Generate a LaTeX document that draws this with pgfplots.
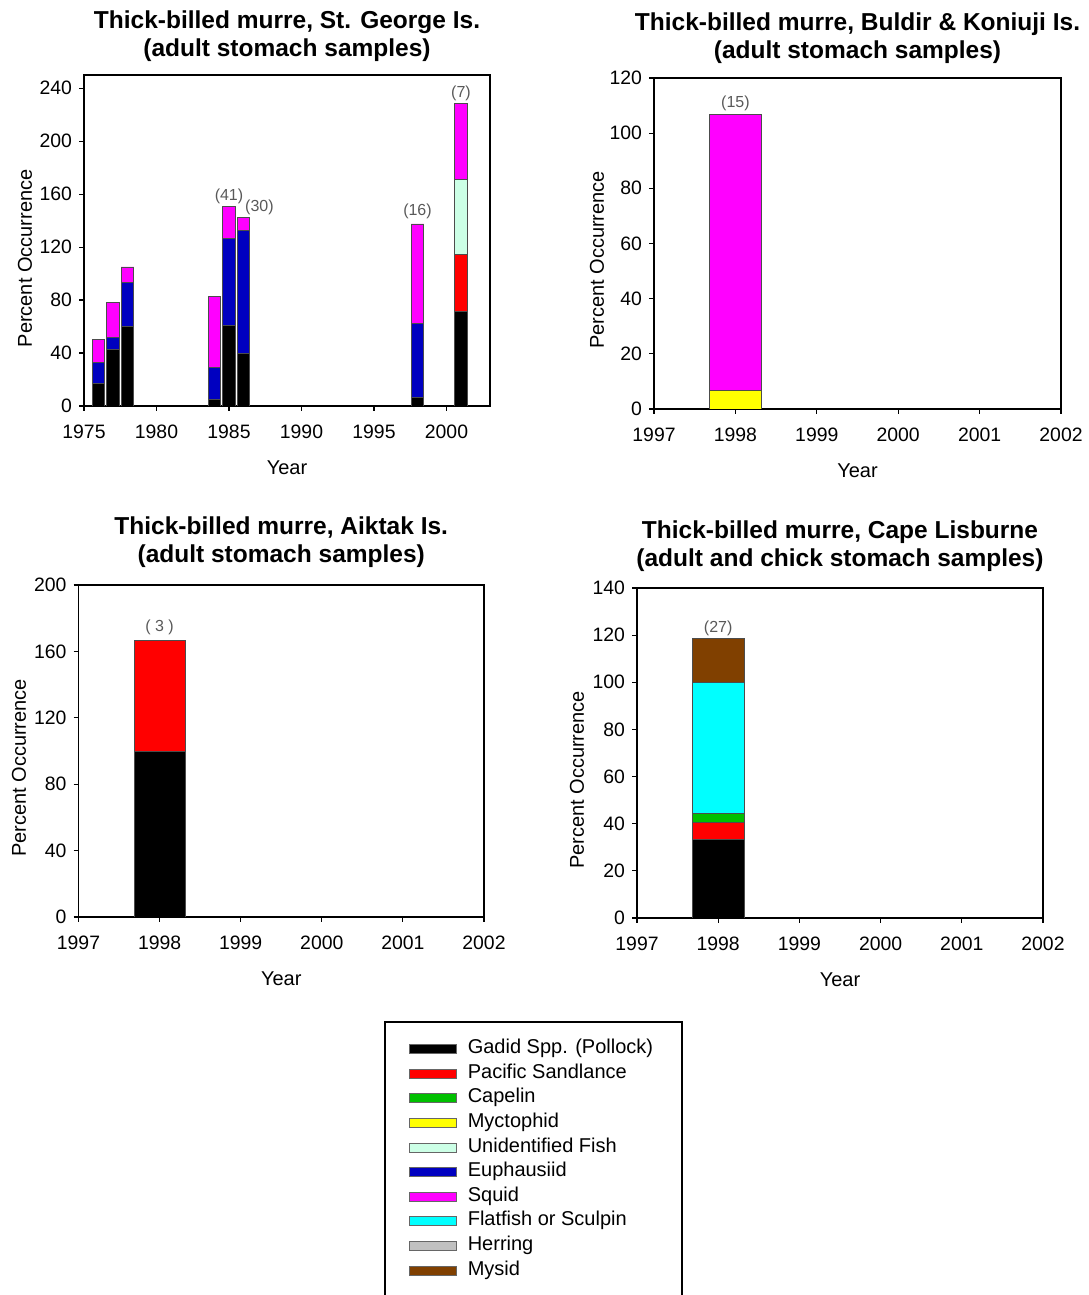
\documentclass[border=0pt]{standalone}
\usepackage{fontspec}
\setmainfont{Liberation Sans}
\usepackage{pgfplots}
\pgfplotsset{compat=1.18}
\definecolor{cgadid}{RGB}{0,0,0}
\definecolor{csand}{RGB}{255,0,0}
\definecolor{ccapelin}{RGB}{0,192,0}
\definecolor{cmycto}{RGB}{255,255,0}
\definecolor{cunid}{RGB}{204,255,230}
\definecolor{ceuph}{RGB}{0,0,192}
\definecolor{csquid}{RGB}{255,0,255}
\definecolor{cflat}{RGB}{0,255,255}
\definecolor{cherring}{RGB}{192,192,192}
\definecolor{cmysid}{RGB}{128,64,0}
\tikzset{lab/.style={font=\fontsize{8}{9.5}\selectfont, text=black!65, inner sep=0pt, anchor=center}}
\pgfplotsset{
  mychart/.style={
    scale only axis, anchor=south west, enlargelimits=false,
    ybar stacked, ymin=0,
    tick align=outside, xtick pos=bottom, ytick pos=left,
    major tick length=2.5pt,
    axis line style={line width=0.8pt},
    every tick/.style={line width=0.6pt, black},
    tick label style={font=\fontsize{9.7}{11}\selectfont},
    xticklabel style={yshift=-3.3pt},
    /pgf/number format/1000 sep={},
    /pgf/number format/assume math mode=true,
    xlabel=Year, ylabel=Percent Occurrence,
    label style={font=\fontsize{10}{12}\selectfont},
    every axis title shift=0pt,
    title style={font=\bfseries\fontsize{12.25}{14}\selectfont, align=center, at={(0.5,1)}, anchor=south},
    xlabel style={at={([yshift=-31pt]axis description cs:0.5,0)}, anchor=center},
    ylabel style={anchor=center},
  },
  bars/.style={draw=black!70, line width=0.4pt},
}
\begin{document}
\begin{tikzpicture}
% Panel 1: St. George
\begin{axis}[mychart, at={(42pt,444.5pt)}, width=203pt, height=165.5pt,
  xmin=1975, xmax=2003, ymax=250, bar width=0.87,
  xtick={1975,1980,1985,1990,1995,2000}, ytick={0,40,...,240},
  title={Thick-billed murre, St. George Is.\\(adult stomach samples)},
  title style={yshift=3.2pt},
  ylabel style={at={([xshift=-29.5pt]axis description cs:0,0.446)}}]
\addplot[bars, fill=cgadid] coordinates {(1976,17) (1977,43) (1978,60) (1984,5) (1985,61) (1986,40) (1998,6.25) (2001,71.4)};
\addplot[bars, fill=csand] coordinates {(1976,0) (1977,0) (1978,0) (1984,0) (1985,0) (1986,0) (1998,0) (2001,42.9)};
\addplot[bars, fill=cunid] coordinates {(1976,0) (1977,0) (1978,0) (1984,0) (1985,0) (1986,0) (1998,0) (2001,57.1)};
\addplot[bars, fill=ceuph] coordinates {(1976,16) (1977,9) (1978,33) (1984,24) (1985,65.4) (1986,92.5) (1998,56.25) (2001,0)};
\addplot[bars, fill=csquid] coordinates {(1976,17) (1977,26) (1978,12) (1984,54) (1985,24) (1986,10) (1998,75) (2001,57.1)};
\node[lab] at (axis cs:1985,150.4) [yshift=5.5pt] {(41)};
\node[lab] at (axis cs:1987.1,142.5) [yshift=5pt] {(30)};
\node[lab] at (axis cs:1998,137.5) [yshift=6.5pt] {(16)};
\node[lab] at (axis cs:2001,228.5) [yshift=5pt] {(7)};
\end{axis}
% Panel 2: Buldir & Koniuji
\begin{axis}[mychart, at={(327pt,443pt)}, width=203.5pt, height=165.5pt,
  xmin=1997, xmax=2002, ymax=120, bar width=0.635,
  xtick={1997,1998,1999,2000,2001,2002}, ytick={0,20,...,120},
  title={Thick-billed murre, Buldir \& Koniuji Is.\\(adult stomach samples)},
  title style={yshift=3.7pt},
  ylabel style={at={([xshift=-28.5pt]axis description cs:0,0.45)}}]
\addplot[bars, fill=cmycto] coordinates {(1998,6.7)};
\addplot[bars, fill=csquid] coordinates {(1998,100)};
\node[lab] at (axis cs:1998,106.7) [yshift=5.5pt] {(15)};
\end{axis}
% Panel 3: Aiktak
\begin{axis}[mychart, at={(39.25pt,189pt)}, width=202.75pt, height=166pt,
  xmin=1997, xmax=2002, ymax=200, bar width=0.625,
  xtick={1997,1998,1999,2000,2001,2002}, ytick={0,40,...,200},
  title={Thick-billed murre, Aiktak Is.\\(adult stomach samples)},
  title style={yshift=5.2pt},
  ylabel style={at={([xshift=-29.75pt]axis description cs:0,0.449)}}]
\addplot[bars, fill=cgadid] coordinates {(1998,100)};
\addplot[bars, fill=csand] coordinates {(1998,66.7)};
\node[lab] at (axis cs:1998,166.7) [yshift=6.5pt] {( 3 )};
\end{axis}
% Panel 4: Cape Lisburne
\begin{axis}[mychart, at={(318.5pt,188.5pt)}, width=203pt, height=165pt,
  xmin=1997, xmax=2002, ymax=140, bar width=0.635,
  xtick={1997,1998,1999,2000,2001,2002}, ytick={0,20,...,140},
  title={Thick-billed murre, Cape Lisburne\\(adult and chick stomach samples)},
  title style={yshift=4.7pt},
  ylabel style={at={([xshift=-30pt]axis description cs:0,0.418)}}]
\addplot[bars, fill=cgadid] coordinates {(1998,33.3)};
\addplot[bars, fill=csand] coordinates {(1998,7.4)};
\addplot[bars, fill=ccapelin] coordinates {(1998,3.7)};
\addplot[bars, fill=cflat] coordinates {(1998,55.6)};
\addplot[bars, fill=cmysid] coordinates {(1998,18.5)};
\node[lab] at (axis cs:1998,118.5) [yshift=5pt] {(27)};
\end{axis}
% Legend
\draw[line width=0.75pt] (192.5pt,136.5pt) rectangle (341pt,-20pt);
\begin{axis}[scale only axis, hide axis, at={(204.5pt,127.65pt)}, anchor=north west,
  width=10pt, height=10pt, xmin=0, xmax=1, ymin=0, ymax=1,
  legend cell align=left,
  legend image code/.code={\draw[#1] (0pt,-2.25pt) rectangle (23.5pt,2.25pt);},
  legend style={at={(0,1)}, anchor=north west, draw=none, fill=none,
    inner sep=0pt, outer sep=0pt, row sep=3.0pt, column sep=5.5pt,
    font=\fontsize{10}{12}\selectfont,
    nodes={inner sep=0pt, text height=7pt, text depth=2.3pt},
    cells={anchor=west}}]
\addlegendimage{fill=cgadid, draw=black!60, line width=0.4pt}
\addlegendentry{Gadid Spp. (Pollock)}
\addlegendimage{fill=csand, draw=black!60, line width=0.4pt}
\addlegendentry{Pacific Sandlance}
\addlegendimage{fill=ccapelin, draw=black!60, line width=0.4pt}
\addlegendentry{Capelin}
\addlegendimage{fill=cmycto, draw=black!60, line width=0.4pt}
\addlegendentry{Myctophid}
\addlegendimage{fill=cunid, draw=black!60, line width=0.4pt}
\addlegendentry{Unidentified Fish}
\addlegendimage{fill=ceuph, draw=black!60, line width=0.4pt}
\addlegendentry{Euphausiid}
\addlegendimage{fill=csquid, draw=black!60, line width=0.4pt}
\addlegendentry{Squid}
\addlegendimage{fill=cflat, draw=black!60, line width=0.4pt}
\addlegendentry{Flatfish or Sculpin}
\addlegendimage{fill=cherring, draw=black!60, line width=0.4pt}
\addlegendentry{Herring}
\addlegendimage{fill=cmysid, draw=black!60, line width=0.4pt}
\addlegendentry{Mysid}
\end{axis}
\pgfresetboundingbox
\useasboundingbox (0,0) rectangle (544pt,647.5pt);
\end{tikzpicture}
\end{document}
